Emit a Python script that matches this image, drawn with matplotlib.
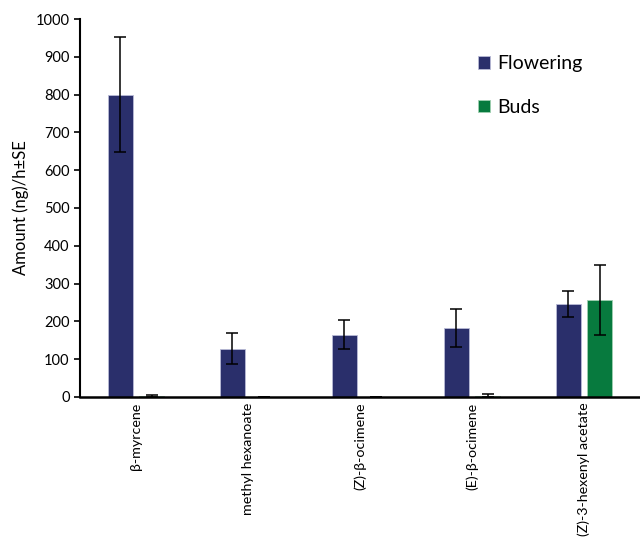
import numpy as np
import matplotlib.pyplot as plt

plt.rcParams['font.family'] = ['Lato', 'DejaVu Sans']

compounds = ['β-myrcene', 'methyl hexanoate', '(Z)-β-ocimene', '(E)-β-ocimene',
             '(Z)-3-hexenyl acetate']
flowering = [800, 128, 165, 182, 245]
flowering_se = [152, 42, 39, 50, 34]
buds = [2, 0, 0.5, 3, 256]
buds_se = [2, 0, 0, 4, 93]

fig = plt.figure(figsize=(6.4, 5.43), dpi=100)
ax = fig.add_axes([0.125, 0.269, 0.875, 0.696])

x = np.arange(len(compounds))
w = 0.22
ax.bar(x - 0.14, flowering, w, color='#2a2f6b', edgecolor='#b8bbd6', linewidth=0.6,
       yerr=flowering_se, error_kw=dict(ecolor='black', elinewidth=1.1, capsize=4, capthick=1.1),
       label='Flowering')
ax.bar(x + 0.14, buds, w, color='#077a3e', edgecolor='#9fd0b0', linewidth=0.6,
       yerr=buds_se, error_kw=dict(ecolor='black', elinewidth=1.1, capsize=4, capthick=1.1),
       label='Buds')

ax.set_xlim(-0.5, 4.5)
ax.set_ylim(0, 1000)
ax.set_yticks(range(0, 1001, 100))
ax.set_xticks(x)
ax.set_xticklabels(compounds, rotation=90, fontsize=10.3)
ax.tick_params(axis='x', length=0, pad=4)
ax.tick_params(axis='y', labelsize=10.5, length=4, width=1.2)
ax.set_ylabel('Amount (ng)/h±SE', fontsize=12, labelpad=5)

for side in ['top', 'right']:
    ax.spines[side].set_visible(False)
ax.spines['left'].set_linewidth(1.5)
ax.spines['bottom'].set_linewidth(1.8)

ax.legend(loc='upper left', bbox_to_anchor=(0.68, 0.95), frameon=False, fontsize=14,
          handlelength=0.6, handleheight=0.6, handletextpad=0.4, labelspacing=1.35)

fig.savefig('out.png', dpi=100)
